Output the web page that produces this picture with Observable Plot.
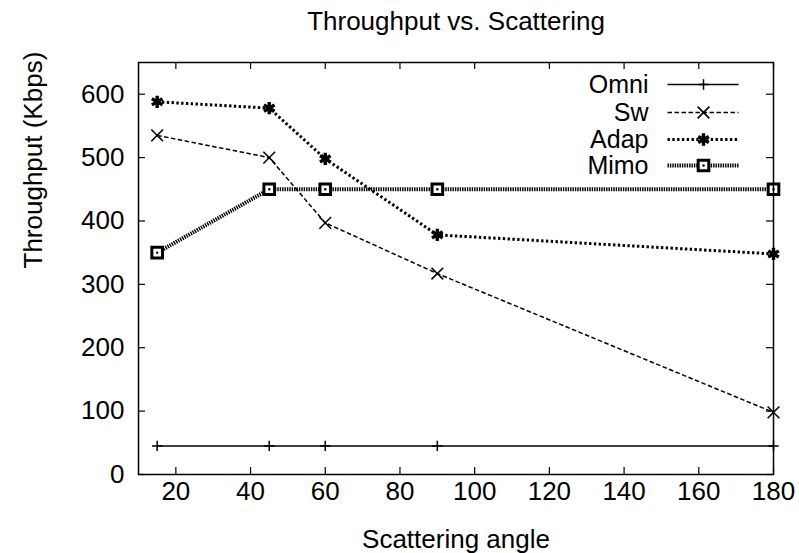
<!DOCTYPE html>
<html>
<head>
<meta charset="utf-8">
<script src="https://cdn.jsdelivr.net/npm/d3@7"></script>
<script src="https://cdn.jsdelivr.net/npm/@observablehq/plot@0.6"></script>
<style>
  html, body { margin: 0; padding: 0; background: #fff; }
  #chart svg { display: block; }
</style>
</head>
<body>
<div id="chart"></div>
<script>
// ---- data ----
const angles = [15, 45, 60, 90, 180];
const omni = [45, 45, 45, 45, 45];
const sw   = [535, 500, 397, 317, 98];
const adap = [588, 578, 498, 378, 348];
const mimo = [350, 450, 450, 450, 450];
const seriesNames = ["Omni", "Sw", "Adap", "Mimo"];
const xTicks = [20, 40, 60, 80, 100, 120, 140, 160, 180];
const yTicks = [0, 100, 200, 300, 400, 500, 600];
const titleText = "Throughput vs. Scattering";
const xLabel = "Scattering angle";
const yLabel = "Throughput (Kbps)";

const values = {Omni: omni, Sw: sw, Adap: adap, Mimo: mimo};
const rows = seriesNames.flatMap(s => angles.map((a, i) => ({series: s, x: a, y: values[s][i]})));
const of = s => rows.filter(d => d.series === s);

// ---- styles ----
const W = 799, H = 553;
const mL = 138, mR = 26, mT = 62, mB = 79;
const frameW = W - mL - mR, frameH = H - mT - mB;
const tickLen = 7;
const FONT = 26;

const lineStyle = {
  Omni: {stroke: "black", strokeWidth: 1.5, strokeLinecap: "butt"},
  Sw:   {stroke: "black", strokeWidth: 1.5, strokeDasharray: "4.5,2.5", strokeLinecap: "butt"},
  Adap: {stroke: "black", strokeWidth: 3, strokeDasharray: "2.4,2.4", strokeLinecap: "butt"},
  Mimo: {stroke: "black", strokeWidth: 4, strokeDasharray: "1.4,1", strokeLinecap: "butt"}
};
const dotStyle = {
  Omni: {symbol: "plus", r: 3.4, stroke: "black", strokeWidth: 1.5, fill: "none"},
  Sw:   {symbol: "times", r: 5.4, stroke: "black", strokeWidth: 1.6, fill: "none"},
  Adap: {symbol: "asterisk", r: 5.8, stroke: "black", strokeWidth: 3.4, fill: "none"},
  Mimo: {symbol: "square", r: 6, stroke: "black", strokeWidth: 3, fill: "white"}
};

const lineShape = {draw(context, l) { context.moveTo(0, 0); context.lineTo(0, -l); }};

// legend geometry (relative to frame top-right)
const legTextDx = -125, legLineDx = -106, legLineLen = 71, legMarkDx = -70;
const legDy = [22, 50, 77, 103];

const marks = [
  // inward ticks (gnuplot style) on all four sides
  Plot.ruleX(xTicks, {x: d => d, insetTop: frameH - tickLen, stroke: "black", strokeWidth: 1.2}),
  Plot.ruleX(xTicks, {x: d => d, insetBottom: frameH - tickLen, stroke: "black", strokeWidth: 1.2}),
  Plot.ruleY(yTicks, {y: d => d, insetRight: frameW - tickLen, stroke: "black", strokeWidth: 1.2}),
  Plot.ruleY(yTicks, {y: d => d, insetLeft: frameW - tickLen, stroke: "black", strokeWidth: 1.2}),
  Plot.axisX(xTicks, {tickSize: 0, tickPadding: 7, label: null, fontSize: FONT}),
  Plot.axisY(yTicks, {tickSize: 0, tickPadding: 14, label: null, fontSize: FONT}),
];

for (const s of seriesNames) {
  marks.push(Plot.line(of(s), {x: "x", y: "y", ...lineStyle[s]}));
}
for (const s of seriesNames) {
  marks.push(Plot.dot(of(s), {x: "x", y: "y", ...dotStyle[s]}));
  if (s === "Mimo") marks.push(Plot.dot(of(s), {x: "x", y: "y", r: 1.2, fill: "black"}));
}

// legend
seriesNames.forEach((s, i) => {
  marks.push(Plot.text([s], {text: d => d, frameAnchor: "top-right", dx: legTextDx, dy: legDy[i],
    textAnchor: "end", lineAnchor: "middle", fontSize: 25, fill: "black"}));
  marks.push(Plot.vector([s], {frameAnchor: "top-right", dx: legLineDx, dy: legDy[i], length: legLineLen,
    rotate: 90, anchor: "start", shape: lineShape, ...lineStyle[s]}));
  marks.push(Plot.dot([s], {frameAnchor: "top-right", dx: legMarkDx, dy: legDy[i], ...dotStyle[s]}));
  if (s === "Mimo") marks.push(Plot.dot([s], {frameAnchor: "top-right", dx: legMarkDx, dy: legDy[i], r: 1.2, fill: "black"}));
});

// titles
marks.push(Plot.text([titleText], {text: d => d, frameAnchor: "top", dy: -51, lineAnchor: "top", fontSize: FONT, fill: "black"}));
marks.push(Plot.text([xLabel], {text: d => d, frameAnchor: "bottom", dy: 55, lineAnchor: "top", fontSize: FONT, fill: "black"}));
marks.push(Plot.text([yLabel], {text: d => d, frameAnchor: "left", dx: -105, rotate: -90, lineAnchor: "middle", fontSize: FONT, fill: "black"}));

marks.push(Plot.frame({stroke: "black", strokeWidth: 1.5}));

const chart = Plot.plot({
  width: W, height: H,
  marginLeft: mL, marginRight: mR, marginTop: mT, marginBottom: mB,
  style: {fontFamily: "'Liberation Sans', Arial, sans-serif", fontSize: FONT + "px", background: "white", color: "black"},
  x: {domain: [10, 180]},
  y: {domain: [0, 650]},
  marks
});
document.getElementById("chart").appendChild(chart);
</script>
</body>
</html>
